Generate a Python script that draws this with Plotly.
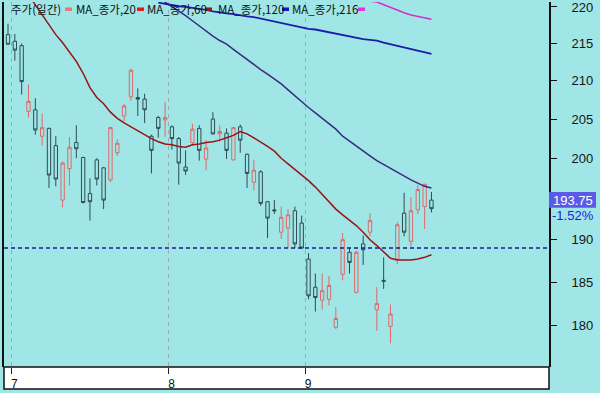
import plotly.graph_objects as go
import math

# ---------------- data ----------------
opens  = [216.2, 215.3, 214.7, 206.0, 206.2, 202.8, 203.8, 201.6, 194.8, 198.7,
          202.0, 200.1, 195.6, 199.8, 198.8, 197.3, 200.7, 205.4, 207.9, 207.8,
          207.6, 202.8, 205.2, 204.9, 204.0, 202.5, 198.9, 202.0, 203.8, 199.9,
          205.0, 203.1, 203.2, 199.8, 204.0, 200.5, 197.0, 198.3, 194.6, 193.6,
          190.9, 191.4, 193.5, 192.0, 187.7, 184.4, 182.9, 183.0, 179.8, 185.9,
          188.5, 183.8, 189.5, 190.9, 181.8, 185.2, 179.9, 187.7, 193.2, 189.8,
          193.6, 194.0, 194.8]
highs  = [217.7, 216.3, 215.0, 209.5, 207.7, 205.7, 203.9, 202.8, 199.6, 202.7,
          204.2, 200.2, 197.5, 200.0, 198.9, 204.0, 202.4, 207.0, 211.6, 209.0,
          208.3, 203.0, 205.4, 207.2, 204.2, 202.7, 201.0, 204.4, 204.2, 202.3,
          205.9, 204.2, 203.8, 204.0, 204.3, 200.6, 199.8, 198.5, 194.7, 194.8,
          194.0, 193.7, 194.0, 192.9, 188.4, 186.0, 186.0, 185.7, 182.1, 190.8,
          189.0, 188.7, 190.5, 193.2, 184.4, 187.9, 182.4, 192.1, 195.7, 195.2,
          196.7, 196.8, 195.8]
lows   = [214.8, 212.7, 208.2, 205.2, 203.0, 201.6, 196.3, 196.5, 193.9, 196.6,
          200.0, 194.4, 192.3, 196.6, 193.7, 197.0, 200.3, 204.7, 207.4, 205.4,
          204.5, 198.1, 202.6, 202.7, 201.1, 196.7, 197.9, 201.6, 199.7, 198.5,
          203.0, 202.1, 199.9, 199.7, 200.7, 196.3, 196.0, 194.1, 190.2, 193.1,
          190.1, 189.0, 189.0, 188.9, 183.0, 181.6, 181.8, 182.3, 179.6, 185.2,
          186.0, 183.7, 187.0, 190.4, 179.4, 184.2, 178.0, 187.1, 190.4, 189.2,
          193.1, 191.3, 193.3]
closes = [214.9, 214.1, 209.9, 207.3, 203.6, 203.9, 197.9, 197.4, 199.4, 201.4,
          201.2, 194.5, 194.6, 197.4, 194.8, 203.9, 201.9, 206.7, 211.4, 207.6,
          206.2, 201.0, 203.8, 205.2, 202.5, 199.4, 198.4, 203.7, 201.0, 201.3,
          203.1, 203.4, 201.0, 203.9, 202.3, 198.1, 198.5, 194.4, 192.6, 193.5,
          192.7, 193.0, 189.5, 189.0, 183.4, 183.2, 184.0, 184.6, 180.8, 190.0,
          187.3, 188.5, 188.8, 192.3, 182.5, 185.1, 181.3, 191.8, 190.9, 193.5,
          196.1, 196.75, 193.75]

ma20 = [224.0, 223.2, 222.4, 221.6, 220.3, 218.9, 217.4, 216.2, 215.1, 213.9,
        212.6, 211.0, 209.1, 207.8, 207.0, 205.9, 205.1, 204.5, 204.0, 203.4,
        202.9, 202.5, 202.1, 201.8, 201.7, 201.5, 201.4, 201.7, 201.8, 202.0,
        202.1, 202.3, 202.6, 202.9, 203.4, 203.1, 202.6, 202.1, 201.5, 200.9,
        200.0, 199.3, 198.6, 198.0, 197.2, 196.4, 195.5, 194.6, 193.7, 193.0,
        192.4, 191.7, 190.9, 190.0, 189.3, 188.6, 187.8, 187.6, 187.6, 187.6,
        187.7, 187.9, 188.2]
ma60 = [None] * 22 + [
        221.3, 220.7, 220.1, 219.5, 218.8, 218.1, 217.4, 216.6, 216.0, 215.4,
        214.9, 214.2, 213.5, 212.8, 212.1, 211.5, 210.9, 210.3, 209.6, 208.8,
        208.0, 207.3, 206.5, 205.8, 205.1, 204.4, 203.7, 202.8, 202.2, 201.5,
        200.9, 200.3, 199.7, 199.2, 198.7, 198.2, 197.7, 197.3, 196.9, 196.5,
        196.3]
ma120 = [None] * 22 + [
        220.6, 220.4, 220.2, 220.1, 220.0, 219.9, 219.7, 219.6, 219.4, 219.2,
        219.1, 219.0, 218.8, 218.7, 218.6, 218.4, 218.2, 217.9, 217.7, 217.6,
        217.4, 217.2, 217.0, 216.9, 216.7, 216.5, 216.3, 216.1, 215.9, 215.8,
        215.6, 215.5, 215.4, 215.1, 214.9, 214.7, 214.5, 214.3, 214.1, 213.9,
        213.6]
ma216 = [None] * 51 + [
        221.7, 221.2, 220.8, 220.7, 220.3, 219.9, 219.5, 219.2, 218.9, 218.7,
        218.5, 218.3]

month_labels = ["7", "8", "9"]
month_start_idx = [1, 24, 44]          # first candle of each month
ref_price = 189.0                       # dashed reference line
last_price_text = "193.75"
change_text = "-1.52%"
y_ticks = [180, 185, 190, 195, 200, 205, 210, 215, 220]

legend_names = ["주가(일간)", "MA_종가,20", "MA_종가,60", "MA_종가,120", "MA_종가,216"]
legend_colors = ["#f07474", "#e01818", "#8e1c1c", "#1414c0", "#e032e0"]

# ---------------- figure ----------------
W, H = 600, 393
ML, MR, MT, MB = 4, 51, 0, 26
PW, PH = W - ML - MR, H - MT - MB
BG = "#a0e6e6"
NARROW = "Liberation Sans Narrow, Arial Narrow, Liberation Sans"

def fx(px):
    return (px - ML) / PW

def fy(py):
    return (MT + PH - py) / PH

x = list(range(len(closes)))

fig = go.Figure()
fig.add_trace(go.Candlestick(
    x=x, open=opens, high=highs, low=lows, close=closes, name=legend_names[0],
    increasing=dict(line=dict(color="#e06868", width=1), fillcolor="rgba(0,0,0,0)"),
    decreasing=dict(line=dict(color="#2e4c52", width=1), fillcolor="rgba(0,0,0,0)"),
    whiskerwidth=0,
))
line_specs = [
    (ma20, legend_names[1], "#9a1414", 1.5),
    (ma60, legend_names[2], "#3a2a80", 1.5),
    (ma120, legend_names[3], "#1c1ca8", 1.8),
    (ma216, legend_names[4], "#cc33cc", 1.5),
]
for vals, nm, col, w in line_specs:
    fig.add_trace(go.Scatter(x=x, y=vals, mode="lines", name=nm,
                             line=dict(color=col, width=w), connectgaps=False))

spacing_px = 6.83
first_px = 8
x0 = (ML - first_px) / spacing_px
x1 = (ML + PW - first_px) / spacing_px

y_top = 220.69
y_bot = 175.36

fig.update_layout(
    width=W, height=H, autosize=False,
    margin=dict(l=ML, r=MR, t=MT, b=MB, pad=0),
    paper_bgcolor=BG, plot_bgcolor=BG,
    showlegend=False,
    xaxis=dict(
        range=[x0, x1], rangeslider=dict(visible=False),
        tickvals=[s - 0.5 for s in month_start_idx], ticktext=month_labels,
        ticks="outside", ticklen=6, tickcolor="#222", tickwidth=1,
        ticklabelshift=3,
        tickfont=dict(family="Liberation Sans, Arial", size=12, color="#111"),
        showgrid=True, gridcolor="#a8a8a8", griddash="4px,4px", gridwidth=1,
        zeroline=False, showline=False,
    ),
    yaxis=dict(
        type="log", side="right",
        range=[math.log10(y_bot), math.log10(y_top)],
        tickvals=y_ticks, ticktext=[str(v) for v in y_ticks],
        ticks="outside", ticklen=6, tickcolor="#111", tickwidth=1,
        ticklabelstandoff=12, ticklabeloverflow="allow",
        tickfont=dict(family=NARROW, size=13, color="#151515"),
        showgrid=False, zeroline=False,
        showline=True, linecolor="#111", linewidth=2, mirror=True,
    ),
)

shapes = []
shapes.append(dict(type="rect", xref="paper", yref="paper",
                   x0=0, x1=1, y0=fy(389), y1=fy(367),
                   fillcolor="white", line=dict(color="#111", width=1.5), layer="below"))
shapes.append(dict(type="line", xref="paper", yref="y", x0=0, x1=1,
                   y0=ref_price, y1=ref_price,
                   line=dict(color="#1a1aa0", width=1.5, dash="4px,3px"), layer="above"))
shapes.append(dict(type="rect", xref="paper", yref="paper",
                   x0=fx(549), x1=fx(596), y0=fy(207), y1=fy(191),
                   fillcolor="#5a5ae8", line=dict(width=0), layer="above"))

annotations = []
annotations.append(dict(xref="paper", yref="paper", x=fx(572.5), y=fy(199.5),
                        text=last_price_text, showarrow=False,
                        font=dict(family=NARROW, size=13, color="white"),
                        xanchor="center", yanchor="middle"))
annotations.append(dict(xref="paper", yref="paper", x=fx(572.5), y=fy(215),
                        text=change_text, showarrow=False,
                        font=dict(family=NARROW, size=13, color="#1c1ce0"),
                        xanchor="center", yanchor="middle"))

text_x = [9, 74, 145, 216, 290]
mark_x = [65, 137, 205, 282, 358]
for nm, col, tx, mx in zip(legend_names, legend_colors, text_x, mark_x):
    annotations.append(dict(xref="paper", yref="paper", x=fx(tx), y=fy(7.5),
                            text=nm, showarrow=False, xanchor="left", yanchor="middle",
                            font=dict(family="Liberation Sans Narrow, Noto Sans CJK KR", size=11.5, color="#111")))
    shapes.append(dict(type="rect", xref="paper", yref="paper",
                       x0=fx(mx), x1=fx(mx + 7), y0=fy(9), y1=fy(5.5),
                       fillcolor=col, line=dict(width=0), layer="above"))

fig.update_layout(shapes=shapes, annotations=annotations)
fig.write_html("out.html")
